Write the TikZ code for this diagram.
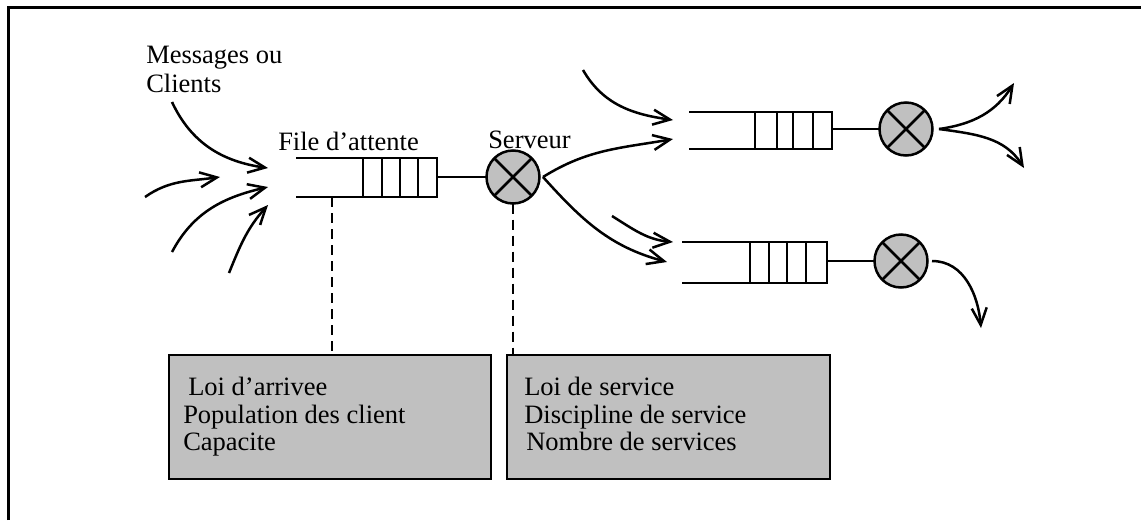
\documentclass[tikz,border=0pt]{standalone}
\usepackage{fontspec}
\setmainfont{Liberation Serif}
\usetikzlibrary{arrows.meta}
\definecolor{srvgray}{HTML}{C0C0C0}
\begin{document}
\begin{tikzpicture}[x=1pt,y=1pt,line width=2.5pt,line join=miter,
  every node/.style={font=\fontsize{26.5}{28}\selectfont},
  label/.style={anchor=base west,inner sep=0pt},
  flow/.style={-{Straight Barb[length=17pt,width=15pt,line width=2.5pt]}},
  server/.style={circle,draw,fill=srvgray,minimum size=53pt,inner sep=0pt,outer sep=0pt},
  infobox/.style={rectangle,draw,fill=srvgray,anchor=north west,inner sep=0pt,outer sep=0pt,
    minimum height=124pt},
  tap/.style={line width=2.2pt,dashed,dash pattern=on 10pt off 6pt}]
\useasboundingbox (0,0) rectangle (1141,-520);

% frame
\draw[line width=3pt] (8,-520) -- (8,-7) -- (1141,-7);

% first queue
\draw (296,-158) -- (437,-158) -- (437,-197) -- (296,-197);
\foreach \x in {363,382,400,418} \draw (\x,-158) -- (\x,-197);
\coordinate (q1out) at (437,-177);
\coordinate (q1tap) at (332,-197);
\node[server] (s1) at (513,-177) {};
\draw (s1.45) -- (s1.225) (s1.135) -- (s1.315);
\draw (q1out) -- (s1.west);

% second queue
\draw (689,-112) -- (832,-112) -- (832,-149) -- (689,-149);
\foreach \x in {755,777,793,813} \draw (\x,-112) -- (\x,-149);
\coordinate (q2out) at (832,-129);
\node[server] (s2) at (906,-129) {};
\draw (s2.45) -- (s2.225) (s2.135) -- (s2.315);
\draw (q2out) -- (s2.west);

% third queue
\draw (682,-242) -- (827,-242) -- (827,-283) -- (682,-283);
\foreach \x in {750,769,787,806} \draw (\x,-242) -- (\x,-283);
\coordinate (q3out) at (827,-261);
\node[server] (s3) at (901,-261) {};
\draw (s3.45) -- (s3.225) (s3.135) -- (s3.315);
\draw (q3out) -- (s3.west);

% labels
\node[label] (msg1) at (145,-63) {Messages ou};
\node[label] (msg2) at (145,-92) {Clients};
\node[label] (filelab) at (277,-150) {File d’attente};
\node[label] (srvlab) at (487,-148) {Serveur};

% arrivals to the first queue
\coordinate (a1s) at (172,-102); \coordinate (a1e) at (268,-168);
\coordinate (a2s) at (145,-197); \coordinate (a2e) at (220,-177);
\coordinate (a3s) at (172,-252); \coordinate (a3e) at (268,-187);
\coordinate (a4s) at (229,-273); \coordinate (a4e) at (268,-205);
\draw[flow] (a1s) to[out=-65,in=172] (a1e);
\draw[flow] (a2s) to[out=35,in=188] (a2e);
\draw[flow] (a3s) to[out=62,in=193] (a3e);
\draw[flow] (a4s) to[out=68,in=228] (a4e);

% arrivals to the second and third queues
\coordinate (b1s) at (583,-70);  \coordinate (b1e) at (673,-120);
\coordinate (b2e) at (673,-139);
\coordinate (c1e) at (667,-262);
\coordinate (c2s) at (612,-216); \coordinate (c2e) at (673,-242);
\coordinate (s1o) at (543,-177);
\draw[flow] (b1s) to[out=-60,in=172] (b1e);
\draw[flow] (s1o) to[out=32,in=190] (b2e);
\draw[flow] (s1o) to[out=-48,in=165] (c1e);
\draw[flow] (c2s) to[out=-32,in=175] (c2e);

% departures
\coordinate (s2o) at (939,-129);
\coordinate (d1e) at (1014,-83); \coordinate (d2e) at (1024,-168);
\coordinate (s3o) at (932,-261); \coordinate (d3e) at (981,-328);
\draw[flow] (s2o) to[out=8,in=-122] (d1e);
\draw[flow] (s2o) to[out=-8,in=122] (d2e);
\draw[flow] (s3o) to[out=0,in=95] (d3e);

% parameter boxes
\node[infobox,minimum width=322pt] (box1) at (169,-355) {};
\node[infobox,minimum width=323pt] (box2) at (507,-355) {};
\node[label] (t11) at (187,-395) {Loi d’arrivee};
\node[label] (t12) at (182,-423) {Population des client};
\node[label] (t13) at (182,-450) {Capacite};
\node[label] (t21) at (523,-395) {Loi de service};
\node[label] (t22) at (523,-423) {Discipline de service};
\node[label] (t23) at (525,-450) {Nombre de services};

% links to the boxes
\draw[tap] (q1tap) -- (q1tap |- box1.north);
\draw[tap] (s1.south) -- (s1.south |- box2.north);
\end{tikzpicture}
\end{document}
